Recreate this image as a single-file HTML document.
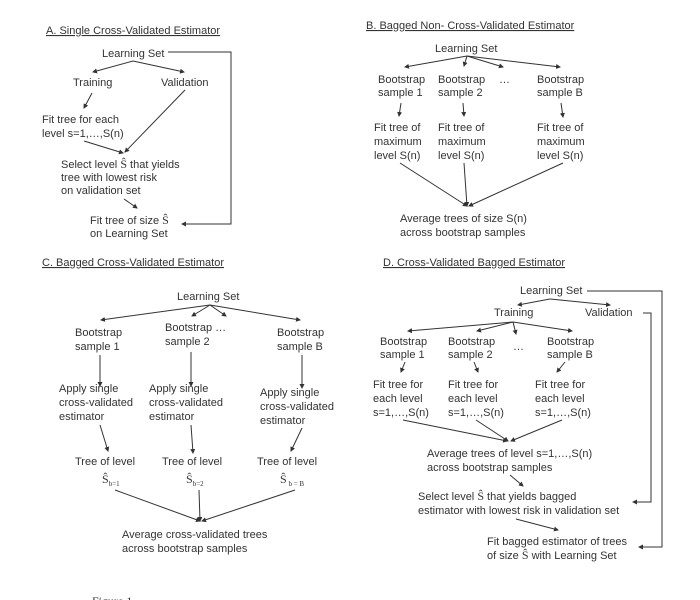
<!DOCTYPE html>
<html><head><meta charset="utf-8"><style>
html,body{margin:0;padding:0;background:#fff;}
svg{display:block;}
text{font-family:"Liberation Sans",sans-serif;font-size:11px;fill:#333;}
.s{font-family:"Liberation Serif",serif;font-size:12px;}
.sub{font-family:"Liberation Serif",serif;font-size:7px;}
line,polyline{stroke:#333;stroke-width:1;fill:none;}
</style></head><body>
<svg width="700" height="600" viewBox="0 0 700 600" xmlns="http://www.w3.org/2000/svg">
<defs><marker id="a" markerWidth="5" markerHeight="5" refX="4" refY="2.5" orient="auto" markerUnits="userSpaceOnUse"><path d="M0,0 L5,2.5 L0,5 z" fill="#333"/></marker></defs>

<!-- A -->
<text x="46" y="34" text-decoration="underline">A. Single Cross-Validated Estimator</text>
<text x="102" y="57">Learning Set</text>
<polyline points="168,52 231,52 231,224 182,224" marker-end="url(#a)"/>
<line x1="133" y1="61" x2="93" y2="72" marker-end="url(#a)"/>
<line x1="133" y1="61" x2="184" y2="72" marker-end="url(#a)"/>
<text x="73" y="86">Training</text>
<text x="161" y="86">Validation</text>
<line x1="92" y1="93" x2="84" y2="108" marker-end="url(#a)"/>
<text x="42" y="123">Fit tree for each</text>
<text x="42" y="137">level s=1,…,S(n)</text>
<line x1="84" y1="141" x2="123" y2="153" marker-end="url(#a)"/>
<line x1="185" y1="90" x2="125" y2="152" marker-end="url(#a)"/>
<text x="61" y="168">Select level <tspan class="s">Ŝ</tspan> that yields</text>
<text x="61" y="181">tree with lowest risk</text>
<text x="61" y="194">on validation set</text>
<line x1="124" y1="199" x2="137" y2="208" marker-end="url(#a)"/>
<text x="90" y="224">Fit tree of size <tspan class="s">Ŝ</tspan></text>
<text x="90" y="237">on Learning Set</text>

<!-- B -->
<text x="366" y="29" text-decoration="underline">B. Bagged Non- Cross-Validated Estimator</text>
<text x="435" y="52">Learning Set</text>
<line x1="467" y1="56" x2="405" y2="67" marker-end="url(#a)"/>
<line x1="467" y1="56" x2="464" y2="66" marker-end="url(#a)"/>
<line x1="467" y1="56" x2="503" y2="67" marker-end="url(#a)"/>
<line x1="467" y1="56" x2="560" y2="67" marker-end="url(#a)"/>
<text x="378" y="83">Bootstrap</text><text x="378" y="96">sample 1</text>
<text x="438" y="83">Bootstrap</text><text x="438" y="96">sample 2</text>
<text x="499" y="83">…</text>
<text x="537" y="83">Bootstrap</text><text x="537" y="96">sample B</text>
<line x1="401" y1="103" x2="399" y2="116" marker-end="url(#a)"/>
<line x1="463" y1="103" x2="464" y2="116" marker-end="url(#a)"/>
<line x1="561" y1="103" x2="563" y2="117" marker-end="url(#a)"/>
<text x="374" y="131">Fit tree of</text><text x="374" y="145">maximum</text><text x="374" y="159">level S(n)</text>
<text x="438" y="131">Fit tree of</text><text x="438" y="145">maximum</text><text x="438" y="159">level S(n)</text>
<text x="537" y="131">Fit tree of</text><text x="537" y="145">maximum</text><text x="537" y="159">level S(n)</text>
<line x1="400" y1="163" x2="467" y2="206" marker-end="url(#a)"/>
<line x1="464" y1="163" x2="467" y2="206" marker-end="url(#a)"/>
<line x1="563" y1="163" x2="469" y2="206" marker-end="url(#a)"/>
<text x="400" y="222">Average trees of size S(n)</text>
<text x="400" y="236">across bootstrap samples</text>

<!-- C -->
<text x="42" y="266" text-decoration="underline">C. Bagged Cross-Validated Estimator</text>
<text x="177" y="300">Learning Set</text>
<line x1="210" y1="305" x2="101" y2="320" marker-end="url(#a)"/>
<line x1="210" y1="305" x2="192" y2="316" marker-end="url(#a)"/>
<line x1="210" y1="305" x2="226" y2="316" marker-end="url(#a)"/>
<line x1="210" y1="305" x2="300" y2="320" marker-end="url(#a)"/>
<text x="75" y="336">Bootstrap</text><text x="75" y="350">sample 1</text>
<text x="165" y="331">Bootstrap …</text><text x="165" y="345">sample 2</text>
<text x="277" y="336">Bootstrap</text><text x="277" y="350">sample B</text>
<line x1="100" y1="355" x2="100" y2="386" marker-end="url(#a)"/>
<line x1="191" y1="352" x2="191" y2="386" marker-end="url(#a)"/>
<line x1="302" y1="355" x2="302" y2="388" marker-end="url(#a)"/>
<text x="59" y="392">Apply single</text><text x="59" y="406">cross-validated</text><text x="59" y="420">estimator</text>
<text x="149" y="392">Apply single</text><text x="149" y="406">cross-validated</text><text x="149" y="420">estimator</text>
<text x="260" y="396">Apply single</text><text x="260" y="410">cross-validated</text><text x="260" y="424">estimator</text>
<line x1="100" y1="425" x2="108" y2="451" marker-end="url(#a)"/>
<line x1="191" y1="425" x2="193" y2="453" marker-end="url(#a)"/>
<line x1="302" y1="428" x2="291" y2="451" marker-end="url(#a)"/>
<text x="75" y="465">Tree of level</text>
<text x="162" y="465">Tree of level</text>
<text x="257" y="465">Tree of  level</text>
<text x="102" y="483" class="s">Ŝ<tspan class="sub" dy="3">b=1</tspan></text>
<text x="186" y="483" class="s">Ŝ<tspan class="sub" dy="3">b=2</tspan></text>
<text x="280" y="483" class="s">Ŝ<tspan class="sub" dy="3"> b = B</tspan></text>
<line x1="115" y1="490" x2="200" y2="521" marker-end="url(#a)"/>
<line x1="199" y1="490" x2="200" y2="521" marker-end="url(#a)"/>
<line x1="295" y1="490" x2="202" y2="521" marker-end="url(#a)"/>
<text x="122" y="538">Average cross-validated trees</text>
<text x="122" y="552">across bootstrap samples</text>
<text x="92" y="605" style="font-family:'Liberation Serif',serif;font-size:12px">Figure 1</text>

<!-- D -->
<text x="383" y="266" text-decoration="underline">D. Cross-Validated Bagged Estimator</text>
<text x="520" y="294">Learning Set</text>
<polyline points="587,291 662,291 662,547 639,547" marker-end="url(#a)"/>
<line x1="550" y1="299" x2="518" y2="305" marker-end="url(#a)"/>
<line x1="550" y1="299" x2="610" y2="305" marker-end="url(#a)"/>
<text x="494" y="316">Training</text>
<text x="585" y="316">Validation</text>
<polyline points="643,313 651,313 651,502 633,502" marker-end="url(#a)"/>
<line x1="513" y1="322" x2="408" y2="331" marker-end="url(#a)"/>
<line x1="513" y1="322" x2="477" y2="331" marker-end="url(#a)"/>
<line x1="513" y1="322" x2="516" y2="334" marker-end="url(#a)"/>
<line x1="513" y1="322" x2="572" y2="331" marker-end="url(#a)"/>
<text x="380" y="345">Bootstrap</text><text x="380" y="358">sample 1</text>
<text x="448" y="345">Bootstrap</text><text x="448" y="358">sample 2</text>
<text x="513" y="350">…</text>
<text x="547" y="345">Bootstrap</text><text x="547" y="358">sample B</text>
<line x1="405" y1="362" x2="401" y2="372" marker-end="url(#a)"/>
<line x1="474" y1="362" x2="478" y2="372" marker-end="url(#a)"/>
<line x1="565" y1="362" x2="557" y2="372" marker-end="url(#a)"/>
<text x="373" y="388">Fit tree for</text><text x="373" y="402">each level</text><text x="373" y="416">s=1,…,S(n)</text>
<text x="448" y="388">Fit tree for</text><text x="448" y="402">each level</text><text x="448" y="416">s=1,…,S(n)</text>
<text x="535" y="388">Fit tree for</text><text x="535" y="402">each level</text><text x="535" y="416">s=1,…,S(n)</text>
<line x1="403" y1="420" x2="507" y2="441" marker-end="url(#a)"/>
<line x1="476" y1="420" x2="508" y2="441" marker-end="url(#a)"/>
<line x1="562" y1="420" x2="511" y2="441" marker-end="url(#a)"/>
<text x="427" y="457">Average trees of level s=1,…,S(n)</text>
<text x="427" y="471">across bootstrap samples</text>
<line x1="510" y1="475" x2="523" y2="486" marker-end="url(#a)"/>
<text x="418" y="500">Select level <tspan class="s">Ŝ</tspan> that yields bagged</text>
<text x="418" y="514">estimator with lowest risk in validation set</text>
<line x1="516" y1="519" x2="558" y2="530" marker-end="url(#a)"/>
<text x="487" y="545">Fit bagged estimator of trees</text>
<text x="487" y="559">of size <tspan class="s">Ŝ</tspan> with Learning Set</text>
</svg>
</body></html>
